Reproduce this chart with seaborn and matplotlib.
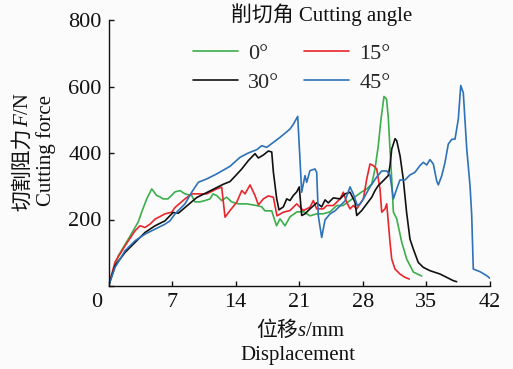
import matplotlib
matplotlib.use("Agg")
import matplotlib.pyplot as plt
import numpy as np
import pandas as pd
import seaborn as sns

# ---------------- data ----------------
angles = ["0°", "15°", "30°", "45°"]

s_0 = [0, 1.08, 2.18, 3.28, 3.66, 4.21, 4.76, 5.31, 5.67, 6.0, 6.55, 7.32, 7.87, 8.42, 9.16, 9.52,
       10.07, 10.63, 11.18, 11.5, 11.91, 12.46, 13.01, 13.56, 14.29, 15.22, 16.32, 16.87, 17.23,
       17.97, 18.5, 18.88, 19.43, 19.98, 20.75, 21.52, 22.18, 22.92, 23.62, 24.39, 25.12, 25.82,
       26.59, 27.33, 27.88, 28.43, 28.98, 29.34, 29.7, 30.0, 30.33, 30.61, 30.8, 30.99, 31.18,
       31.36, 31.73, 32.28, 32.83, 33.56, 34.48]
F_0 = [0, 91, 141, 193, 223, 262, 292, 272, 268, 262, 262, 283, 287, 277, 272, 253, 253, 257, 262,
       277, 272, 257, 267, 253, 247, 247, 242, 238, 226, 226, 181, 202, 181, 208, 223, 223, 211,
       217, 217, 223, 242, 242, 257, 272, 283, 292, 307, 352, 422, 502, 570, 562, 508, 412, 322,
       223, 202, 132, 81, 42, 30]

s_15 = [0, 0.72, 1.82, 2.92, 3.47, 4.02, 4.57, 5.12, 6.22, 6.96, 7.32, 8.42, 9.16, 9.89, 10.81,
        11.91, 12.46, 12.83, 13.38, 14.12, 14.67, 15.03, 15.58, 16.13, 16.5, 17.05, 17.6, 18.15,
        18.55, 19.25, 19.98, 20.72, 21.45, 22.18, 22.55, 22.92, 23.65, 24.02, 24.75, 25.49, 25.85,
        26.22, 26.59, 26.95, 27.33, 28.06, 28.43, 28.79, 29.16, 29.53, 29.89, 30.08, 30.44, 30.63,
        30.8, 30.99, 31.18, 31.54, 32.09, 32.64, 33.11]
F_15 = [0, 72, 121, 166, 181, 176, 186, 201, 217, 222, 236, 262, 277, 277, 277, 292, 297, 207, 227,
        252, 287, 277, 304, 272, 244, 262, 271, 267, 211, 222, 227, 247, 227, 237, 257, 232, 232,
        242, 242, 262, 282, 252, 232, 242, 232, 262, 322, 367, 362, 352, 292, 222, 232, 247, 193,
        132, 81, 51, 36, 26, 21]

s_30 = [0, 0.72, 1.82, 2.92, 4.02, 5.12, 6.22, 7.1, 7.69, 8.42, 9.71, 11.18, 12.64, 13.37, 13.93,
        14.67, 15.39, 16.13, 16.5, 17.05, 17.6, 17.97, 18.15, 18.52, 18.77, 19.25, 19.62, 19.98,
        20.34, 20.72, 21.0, 21.27, 21.63, 22.18, 22.92, 23.47, 23.84, 24.2, 24.75, 25.49, 26.04,
        26.59, 27.14, 27.33, 27.88, 28.43, 28.98, 29.34, 29.7, 30.08, 30.44, 30.8, 30.99, 31.18,
        31.55, 31.73, 32.1, 32.45, 32.82, 33.19, 33.56, 34.1, 34.66, 35.4, 36.5, 37.23, 37.96, 38.33]
F_30 = [0, 61, 101, 131, 161, 181, 196, 221, 219, 236, 266, 286, 306, 314, 330, 352, 377, 398, 385,
        394, 406, 403, 343, 262, 229, 238, 262, 257, 272, 283, 298, 212, 217, 232, 250, 238, 259,
        250, 265, 262, 277, 282, 252, 212, 227, 247, 267, 287, 302, 312, 322, 332, 362, 412, 443,
        437, 391, 322, 221, 141, 111, 71, 56, 46, 36, 26, 16, 13]

s_45 = [0, 0.72, 1.82, 2.92, 4.02, 5.12, 6.22, 6.77, 7.32, 7.87, 8.42, 9.16, 9.89, 10.81, 11.91,
        13.38, 14.48, 15.39, 16.32, 16.87, 17.42, 18.15, 18.88, 19.98, 20.34, 20.83, 21.27, 21.63,
        21.82, 22.18, 22.73, 22.92, 23.1, 23.47, 23.84, 24.39, 24.94, 25.49, 26.04, 26.59, 26.95,
        27.39, 27.7, 28.06, 28.79, 29.53, 30.08, 30.63, 30.99, 31.36, 31.73, 32.09, 32.64, 33.19,
        33.74, 34.29, 34.66, 35.03, 35.39, 35.76, 36.13, 36.31, 36.68, 37.05, 37.41, 37.79, 38.15,
        38.51, 38.78, 39.06, 39.44, 39.8, 39.98, 40.16, 40.9, 41.64, 42.0]
F_45 = [0, 56, 106, 136, 156, 171, 186, 196, 217, 232, 247, 282, 312, 322, 337, 360, 387, 400, 410,
        422, 417, 432, 447, 472, 486, 510, 282, 332, 312, 347, 352, 342, 211, 146, 199, 217, 226,
        241, 256, 298, 277, 242, 247, 262, 298, 328, 346, 346, 334, 262, 292, 319, 319, 334, 342,
        362, 372, 364, 380, 367, 316, 304, 331, 372, 427, 441, 442, 502, 603, 581, 412, 302, 217,
        51, 43, 31, 23]

x_ticks = [0, 7, 14, 21, 28, 35, 42]
y_ticks = [0, 200, 400, 600, 800]

colors = {"0°": "#3cae4c", "15°": "#e8262b", "30°": "#111111", "45°": "#2d72b9"}

# ---------------- style ----------------
sns.set_theme(style="ticks")
plt.rcParams["font.family"] = ["Liberation Serif", "Noto Sans CJK SC"]
plt.rcParams["axes.unicode_minus"] = False
BG = "#fbfbfb"

W, H = 513, 369
fig = plt.figure(figsize=(W / 100, H / 100), dpi=100, facecolor=BG)
L, R, T, B = 108.5, 490, 20, 286
ax = fig.add_axes([L / W, 1 - B / H, (R - L) / W, (B - T) / H])
ax.set_facecolor(BG)

df = pd.concat([
    pd.DataFrame({"angle": a, "s": s, "F": f})
    for a, s, f in zip(angles, [s_0, s_15, s_30, s_45], [F_0, F_15, F_30, F_45])
], ignore_index=True)

sns.lineplot(data=df, x="s", y="F", hue="angle", hue_order=angles, palette=colors,
             estimator=None, sort=False, lw=1.2, ax=ax, legend=True)

ax.set_xlim(0, 42)
ax.set_ylim(0, 800)
ax.set_xticks(x_ticks)
ax.set_xticklabels([""] + [str(v) for v in x_ticks[1:]])
ax.set_yticks(y_ticks)
ax.set_yticklabels([""] + [str(v) for v in y_ticks[1:]])
ax.tick_params(direction="in", length=3.8, width=1.0, labelsize=16, colors="#111111",
               labelcolor="#111111")
ax.tick_params(axis="x", pad=5.0)
ax.tick_params(axis="y", pad=5.0)
for sp in ["top", "right"]:
    ax.spines[sp].set_visible(False)
for sp in ["left", "bottom"]:
    ax.spines[sp].set_linewidth(1.0)
    ax.spines[sp].set_color("#111111")
ax.set_xlabel("")
ax.set_ylabel("")


def fx(px):
    return px / W


def fy(py):
    return 1 - py / H


# shared origin label
fig.text(fx(96.7), fy(302.5), "0", ha="center", va="center", fontsize=16, color="#111111")

# legend
handles, labels = ax.get_legend_handles_labels()
order = [0, 2, 1, 3]
ax.legend([handles[i] for i in order], [labels[i] for i in order], ncol=2, frameon=False,
          loc="upper left", bbox_to_anchor=(fx(192.7), fy(43.5)), bbox_transform=fig.transFigure,
          borderpad=0, borderaxespad=0, fontsize=16, handlelength=2.05, handletextpad=0.45,
          columnspacing=1.1, labelspacing=0.38)
fig.text(fx(321.7), fy(15), "削切角 Cutting angle", ha="center", va="center", fontsize=15,
         color="#111111")

# composite axis labels
renderer = fig.canvas.get_renderer()
serif = dict(family=["Liberation Serif", "Noto Sans CJK SC"])
cjk = dict(family=["Noto Sans CJK SC", "Liberation Serif"])


def seq_text_h(pieces, xc, y_base_px, size=15):
    objs, lengths = [], []
    for s, kw in pieces:
        t = fig.text(0, 0, s, ha="left", va="baseline", fontsize=size, color="#111111", **kw)
        lengths.append(t.get_window_extent(renderer).width)
        objs.append(t)
    pos = xc - sum(lengths) / 2
    for t, l in zip(objs, lengths):
        t.set_position((fx(pos), fy(y_base_px)))
        pos += l


def seq_text_v(pieces, x_base, y_center_px, size=15):
    objs, lengths = [], []
    for s, kw in pieces:
        t = fig.text(0, 0, s, rotation=90, rotation_mode="anchor", ha="left", va="baseline",
                     fontsize=size, color="#111111", **kw)
        lengths.append(t.get_window_extent(renderer).height)
        objs.append(t)
    pos = (H - y_center_px) - sum(lengths) / 2  # from bottom, px
    for t, l in zip(objs, lengths):
        t.set_position((fx(x_base), pos / H))
        pos += l


seq_text_h([("位移", cjk), ("s", dict(serif, style="italic")), ("/mm", serif)], 300, 336)
seq_text_h([("Displacement", serif)], 298, 360)
seq_text_v([("切割阻力", cjk), ("F", dict(serif, style="italic")), ("/N", serif)], 28, 152)
seq_text_v([("Cutting force", serif)], 51, 151)

fig.savefig("out.png", dpi=100, facecolor=BG)
